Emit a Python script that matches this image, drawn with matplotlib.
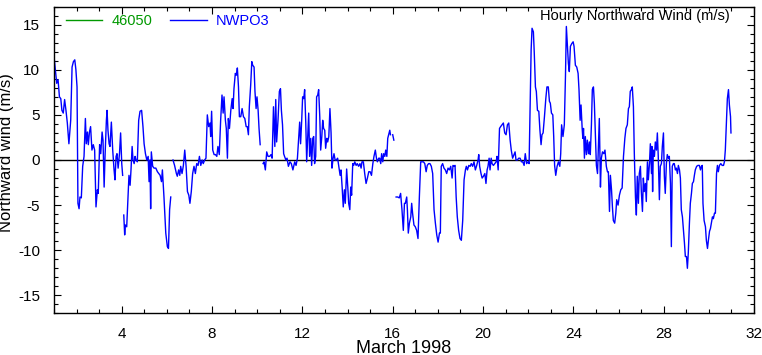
import matplotlib
matplotlib.use("Agg")
import matplotlib.pyplot as plt
from matplotlib.ticker import MultipleLocator
import numpy as np

nan = float("nan")

# Hourly northward wind, March 1998 (day of month, m/s); nan marks missing data
day = [
    1.00, 1.12, 1.18, 1.24, 1.30, 1.35, 1.41, 1.47, 1.53, 1.59,
    1.66, 1.74, 1.80, 1.86, 1.92, 1.97, 2.02, 2.06, 2.11, 2.15,
    2.21, 2.27, 2.33, 2.39, 2.43, 2.48, 2.52, 2.57, 2.62, 2.68,
    2.74, 2.80, 2.86, 2.92, 2.96, 3.02, 3.07, 3.13, 3.17, 3.22,
    3.26, 3.32, 3.35, 3.39, 3.44, 3.48, 3.54, 3.60, 3.66, 3.70,
    3.75, 3.79, 3.84, 3.90, 3.95, 4.00, 4.04, 4.065, 4.09, 4.13,
    4.16, 4.22, 4.28, 4.32, 4.37, 4.41, 4.46, 4.50, 4.55, 4.59,
    4.63, 4.69, 4.75, 4.81, 4.88, 4.94, 4.99, 5.05, 5.11, 5.17,
    5.21, 5.25, 5.28, 5.31, 5.37, 5.43, 5.51, 5.58, 5.64, 5.70,
    5.76, 5.80, 5.87, 5.95, 6.02, 6.07, 6.12, 6.17, 6.22, 6.27,
    6.34, 6.42, 6.46, 6.52, 6.57, 6.61, 6.67, 6.73, 6.79, 6.85,
    6.91, 6.97, 7.02, 7.08, 7.14, 7.20, 7.26, 7.32, 7.38, 7.44,
    7.50, 7.56, 7.61, 7.67, 7.73, 7.79, 7.85, 7.91, 7.94, 7.98,
    8.03, 8.09, 8.15, 8.21, 8.26, 8.32, 8.38, 8.44, 8.49, 8.53,
    8.59, 8.63, 8.68, 8.72, 8.77, 8.83, 8.89, 8.93, 8.97, 9.03,
    9.08, 9.12, 9.17, 9.21, 9.27, 9.33, 9.39, 9.45, 9.51, 9.56,
    9.61, 9.65, 9.71, 9.76, 9.80, 9.86, 9.90, 9.95, 9.99, 10.04,
    10.08, 10.13, 10.20, 10.26, 10.30, 10.36, 10.42, 10.48, 10.55, 10.61,
    10.66, 10.72, 10.78, 10.82, 10.86, 10.92, 10.98, 11.03, 11.07, 11.12,
    11.17, 11.21, 11.27, 11.32, 11.38, 11.45, 11.51, 11.58, 11.66, 11.72,
    11.78, 11.83, 11.88, 11.92, 11.97, 12.01, 12.06, 12.10, 12.15, 12.19,
    12.23, 12.28, 12.32, 12.37, 12.41, 12.46, 12.50, 12.54, 12.59, 12.63,
    12.68, 12.72, 12.77, 12.81, 12.86, 12.90, 12.94, 12.99, 13.03, 13.08,
    13.12, 13.17, 13.22, 13.27, 13.31, 13.36, 13.40, 13.45, 13.50, 13.56,
    13.61, 13.67, 13.71, 13.76, 13.81, 13.86, 13.90, 13.96, 14.01, 14.05,
    14.10, 14.14, 14.18, 14.23, 14.27, 14.32, 14.38, 14.43, 14.49, 14.55,
    14.60, 14.64, 14.70, 14.76, 14.82, 14.88, 14.94, 15.00, 15.06, 15.12,
    15.17, 15.23, 15.28, 15.32, 15.38, 15.42, 15.47, 15.51, 15.56, 15.60,
    15.65, 15.69, 15.74, 15.78, 15.82, 15.87, 15.90, 15.95, 16.00, 16.05,
    16.10, 16.15, 16.22, 16.29, 16.35, 16.41, 16.47, 16.52, 16.56, 16.62,
    16.65, 16.69, 16.74, 16.80, 16.84, 16.88, 16.94, 17.00, 17.06, 17.12,
    17.18, 17.24, 17.30, 17.36, 17.42, 17.48, 17.53, 17.59, 17.65, 17.71,
    17.77, 17.83, 17.89, 17.95, 18.01, 18.07, 18.11, 18.15, 18.21, 18.27,
    18.33, 18.39, 18.45, 18.51, 18.57, 18.63, 18.67, 18.72, 18.76, 18.81,
    18.86, 18.92, 18.98, 19.04, 19.10, 19.16, 19.22, 19.26, 19.31, 19.37,
    19.43, 19.48, 19.54, 19.60, 19.66, 19.72, 19.78, 19.81, 19.85, 19.91,
    19.96, 20.02, 20.08, 20.13, 20.18, 20.22, 20.27, 20.31, 20.36, 20.40,
    20.46, 20.52, 20.58, 20.62, 20.67, 20.73, 20.78, 20.84, 20.90, 20.96,
    21.02, 21.08, 21.14, 21.20, 21.25, 21.31, 21.37, 21.42, 21.46, 21.52,
    21.58, 21.64, 21.70, 21.76, 21.82, 21.87, 21.93, 21.99, 22.04, 22.08,
    22.13, 22.17, 22.23, 22.27, 22.32, 22.36, 22.41, 22.47, 22.52, 22.57,
    22.61, 22.66, 22.72, 22.78, 22.83, 22.89, 22.94, 22.98, 23.03, 23.09,
    23.13, 23.17, 23.22, 23.28, 23.34, 23.40, 23.44, 23.48, 23.54, 23.60,
    23.65, 23.69, 23.74, 23.78, 23.82, 23.87, 23.93, 23.99, 24.03, 24.09,
    24.15, 24.21, 24.25, 24.30, 24.34, 24.39, 24.42, 24.45, 24.49, 24.53,
    24.58, 24.62, 24.67, 24.71, 24.75, 24.80, 24.84, 24.89, 24.93, 24.98,
    25.02, 25.07, 25.11, 25.15, 25.20, 25.24, 25.29, 25.35, 25.40, 25.46,
    25.51, 25.55, 25.60, 25.64, 25.69, 25.73, 25.77, 25.83, 25.88, 25.92,
    25.98, 26.04, 26.10, 26.16, 26.22, 26.28, 26.33, 26.39, 26.44, 26.48,
    26.52, 26.57, 26.61, 26.66, 26.70, 26.75, 26.79, 26.83, 26.88, 26.92,
    26.97, 27.01, 27.06, 27.10, 27.14, 27.19, 27.23, 27.28, 27.32, 27.37,
    27.41, 27.46, 27.48, 27.51, 27.54, 27.59, 27.63, 27.68, 27.72, 27.76,
    27.81, 27.85, 27.90, 27.94, 27.99, 28.03, 28.07, 28.12, 28.16, 28.21,
    28.25, 28.30, 28.34, 28.38, 28.43, 28.47, 28.52, 28.56, 28.61, 28.65,
    28.70, 28.74, 28.78, 28.83, 28.87, 28.92, 28.96, 29.01, 29.05, 29.09,
    29.14, 29.18, 29.23, 29.27, 29.32, 29.36, 29.40, 29.46, 29.52, 29.58,
    29.63, 29.67, 29.71, 29.74, 29.79, 29.85, 29.89, 29.94, 29.98, 30.03,
    30.07, 30.11, 30.16, 30.20, 30.25, 30.29, 30.34, 30.38, 30.42, 30.47,
    30.53, 30.59, 30.65, 30.69, 30.73, 30.78, 30.82, 30.87, 30.91, 30.96,
    30.98,
]
wind = [
    11.5, 8.5, 8.9, 7.0, 6.8, 5.5, 5.2, 6.7, 5.5, 4.1,
    1.8, 4.4, 10.3, 10.9, 11.1, 10.0, 8.1, -4.8, -5.4, -4.1,
    -4.2, -0.7, 0.4, 4.6, 1.8, 3.1, 1.7, 3.1, 3.7, 1.1,
    1.7, 1.1, -5.2, -3.3, -3.7, 1.7, 0.7, 3.1, 2.2, -3.0,
    0.4, 4.4, 5.5, 3.3, 1.8, 1.5, 4.2, 1.1, -1.1, -2.2,
    0.4, 0.7, -0.9, 0.7, 3.0, -0.4, -1.7, nan, -6.1, -8.3,
    -7.2, -7.4, -4.1, -1.7, -2.8, -1.1, 1.5, 0.0, -0.4, 0.4,
    0.0, -0.2, 4.4, 5.4, 5.5, 3.7, 1.8, 0.7, 0.0, 0.4,
    -2.4, 0.0, -5.4, 0.9, -0.7, -0.9, -0.9, -1.3, -1.5, -1.7,
    -2.4, -1.1, -4.1, -8.1, -9.6, -9.8, -5.5, -4.1, nan, 0.0,
    -0.6, -1.5, -1.8, -1.1, -1.7, -0.7, -1.5, -0.6, 1.1, -0.7,
    -3.5, -3.9, -4.8, -3.5, -1.5, -0.7, -1.5, -0.4, -0.6, 0.4,
    -0.6, 0.0, -0.4, 0.0, 0.2, 5.0, 3.7, 4.1, 2.6, 5.4,
    1.1, 0.6, 0.6, 0.4, 1.5, 0.6, 4.4, 7.2, 5.2, 7.0,
    4.4, 3.5, 0.2, 4.6, 3.5, 5.5, 6.8, 5.7, 7.9, 9.6,
    9.4, 10.2, 8.1, 4.8, 4.8, 5.7, 4.8, 4.6, 3.7, 3.7,
    2.8, 5.9, 8.3, 10.9, 10.5, 10.3, 7.6, 5.7, 7.0, 5.5,
    3.5, 1.7, nan, -0.4, -0.2, -1.1, 0.9, 0.4, 0.4, 0.6,
    0.2, 5.9, 1.5, 6.7, 2.0, 4.4, 7.6, 7.9, 5.5, 3.9,
    0.7, 0.4, 0.0, 0.2, -0.7, -0.2, -0.4, -1.1, -0.2, -0.6,
    0.2, 2.2, 4.2, 1.8, 4.4, 7.0, 6.8, 7.8, 4.1, -0.2,
    2.2, 5.2, 0.4, 2.4, -0.6, 2.4, 2.6, -0.4, 0.4, 7.0,
    7.2, 7.8, 4.8, 1.1, 2.6, 4.4, 3.5, 3.3, 1.3, 2.4,
    2.0, 2.6, 5.7, 3.0, -0.9, 0.2, 0.7, 0.0, 0.0, 0.2,
    -0.7, -1.7, -1.1, -3.0, -5.2, -3.3, -4.8, -1.0, -3.0, -4.8,
    -5.5, -3.0, -3.9, -0.4, -0.6, -0.2, -0.6, -0.4, -0.7, -0.4,
    -0.9, -0.2, -0.2, -1.5, -2.6, -2.0, -1.3, -1.3, -1.7, -0.4,
    0.4, 1.1, 0.2, -0.2, 0.2, 0.2, -0.4, 0.7, -0.2, 0.7,
    0.4, 1.1, 0.4, 2.4, 2.8, 3.3, 2.8, nan, 2.8, 2.2,
    nan, -4.1, -4.1, -4.2, -3.7, -5.5, -7.8, -4.8, -4.8, -4.1,
    -5.5, -8.1, -7.0, -6.3, -4.8, -5.9, -7.2, -7.4, -7.8, -8.7,
    -4.1, -0.2, -0.2, -0.2, -0.4, -1.3, -0.6, -0.4, -0.4, -0.7,
    -1.5, -5.5, -7.0, -8.3, -9.1, -8.1, -8.1, -0.7, -0.4, -0.9,
    -1.1, -1.5, -0.9, -1.1, -0.7, -2.0, -0.6, -0.7, -0.6, -4.1,
    -6.3, -7.8, -8.7, -8.9, -6.7, -2.2, -1.1, -0.7, -1.1, -0.6,
    -0.7, -0.4, -0.7, -0.2, -1.1, -0.6, 0.0, 0.6, -0.7, -1.5,
    -2.0, -1.8, -1.5, -2.6, -1.1, -0.7, 0.2, -1.1, 0.2, -0.4,
    -0.6, -0.4, -0.2, 0.4, -1.1, 3.5, 3.7, 3.9, 4.1, 3.0,
    2.8, 3.9, 4.1, 2.2, 1.1, 0.2, 0.6, 0.9, 0.0, 0.0,
    0.2, 0.2, -0.2, -0.2, -0.6, 0.7, -0.4, -0.2, -0.4, 5.5,
    12.2, 14.6, 14.2, 11.8, 8.1, 7.6, 5.5, 5.4, 3.3, 1.7,
    2.8, 3.0, 4.8, 6.8, 8.1, 8.1, 6.5, 6.3, 5.2, 5.0,
    2.6, -0.6, -1.7, -0.7, -0.2, -0.7, 0.7, 3.9, 2.6, 3.9,
    9.2, 14.8, 12.6, 10.7, 9.8, 12.6, 12.9, 13.1, 12.6, 10.5,
    10.3, 9.6, 7.8, 4.4, 6.1, 3.5, 2.4, 3.5, 0.2, 2.6,
    0.6, 2.2, 0.7, 2.0, 0.6, 3.9, 7.8, 8.1, 6.3, 2.6,
    -0.6, -1.5, 1.5, 4.6, -3.0, 0.2, 0.9, 0.7, 1.1, -0.7,
    -1.3, -1.3, -5.7, -1.7, -3.3, -5.2, -6.7, -7.0, -5.9, -4.4,
    -5.0, -3.9, -3.3, -3.1, 0.4, 2.4, 3.5, 3.9, 5.7, 5.9,
    7.6, 7.8, 8.1, 5.9, 0.7, -4.1, -6.1, -1.8, -4.8, -1.5,
    -0.7, -3.5, -5.7, -2.0, -3.5, -2.6, -4.6, -0.2, -2.2, -0.4,
    1.8, -1.5, 1.5, -3.5, 1.1, 0.4, 2.0, 1.1, 3.0, 0.4,
    -4.4, -0.7, -0.4, 1.5, 3.0, -1.8, -3.7, -0.4, 0.6, 0.2,
    0.4, -2.6, -9.6, -0.7, -0.4, -0.4, -1.1, -0.9, -1.5, -0.6,
    -1.1, -2.0, -5.5, -6.3, -7.6, -9.2, -10.7, -10.7, -12.0, -10.3,
    -7.0, -4.8, -3.7, -2.6, -2.4, -1.7, -1.1, -0.7, -0.6, -0.6,
    -1.1, -0.7, -0.6, -4.8, -6.7, -7.4, -8.9, -9.8, -8.9, -7.9,
    -7.6, -7.0, -6.3, -6.5, -5.9, -5.9, -1.5, -0.6, -1.3, -0.6,
    -0.4, -0.6, -0.6, -0.2, 1.1, 4.4, 6.8, 7.8, 6.1, 4.8,
    3.0,
]
# buoy 46050 has no data in this month, it only shows in the legend
buoy_day = []
buoy_wind = []

assert len(day) == len(wind)

plt.rcParams['font.family'] = ['Liberation Sans', 'DejaVu Sans']
plt.rcParams['axes.unicode_minus'] = False

fig = plt.figure(figsize=(7.62, 3.55), dpi=100)
ax = fig.add_axes([54 / 762, 1 - 313.4 / 355, 700 / 762, 306.8 / 355])

ax.plot(buoy_day, buoy_wind, color='#009900', lw=1.0, label='46050')
ax.plot(day, wind, color='#0000ff', lw=1.0, label='NWPO3')
ax.axhline(0, color='black', lw=1.0, zorder=1)

ax.set_xlim(1, 32)
ax.set_ylim(-17, 17)
ax.xaxis.set_major_locator(MultipleLocator(4))
ax.xaxis.set_minor_locator(MultipleLocator(1))
ax.yaxis.set_major_locator(MultipleLocator(5))
ax.yaxis.set_minor_locator(MultipleLocator(1))
ax.tick_params(which='both', direction='in', top=True, right=True, width=0.8)
ax.tick_params(which='major', length=5, labelsize=11)
ax.tick_params(which='minor', length=3)
ax.tick_params(axis='y', pad=10)
ax.tick_params(axis='x', pad=10)
for s in ax.spines.values():
    s.set_linewidth(1.0)

ax.text(0.966, 0.955, 'Hourly Northward Wind (m/s)', transform=ax.transAxes,
        ha='right', va='baseline', fontsize=10.5)

ax.legend(loc='center left', bbox_to_anchor=(0.017, 0.954), ncol=2,
          frameon=False, fontsize=10.5, handlelength=2.5, handletextpad=0.65,
          columnspacing=1.2, borderpad=0, borderaxespad=0,
          labelcolor='linecolor')

fig.text(404 / 762, 2 / 355, 'March 1998', ha='center', va='baseline', fontsize=13)
fig.text(7 / 762, 1 - 153 / 355, 'Northward wind (m/s)', rotation=90,
         ha='center', va='center', fontsize=12)

plt.savefig('out.png', dpi=100)
